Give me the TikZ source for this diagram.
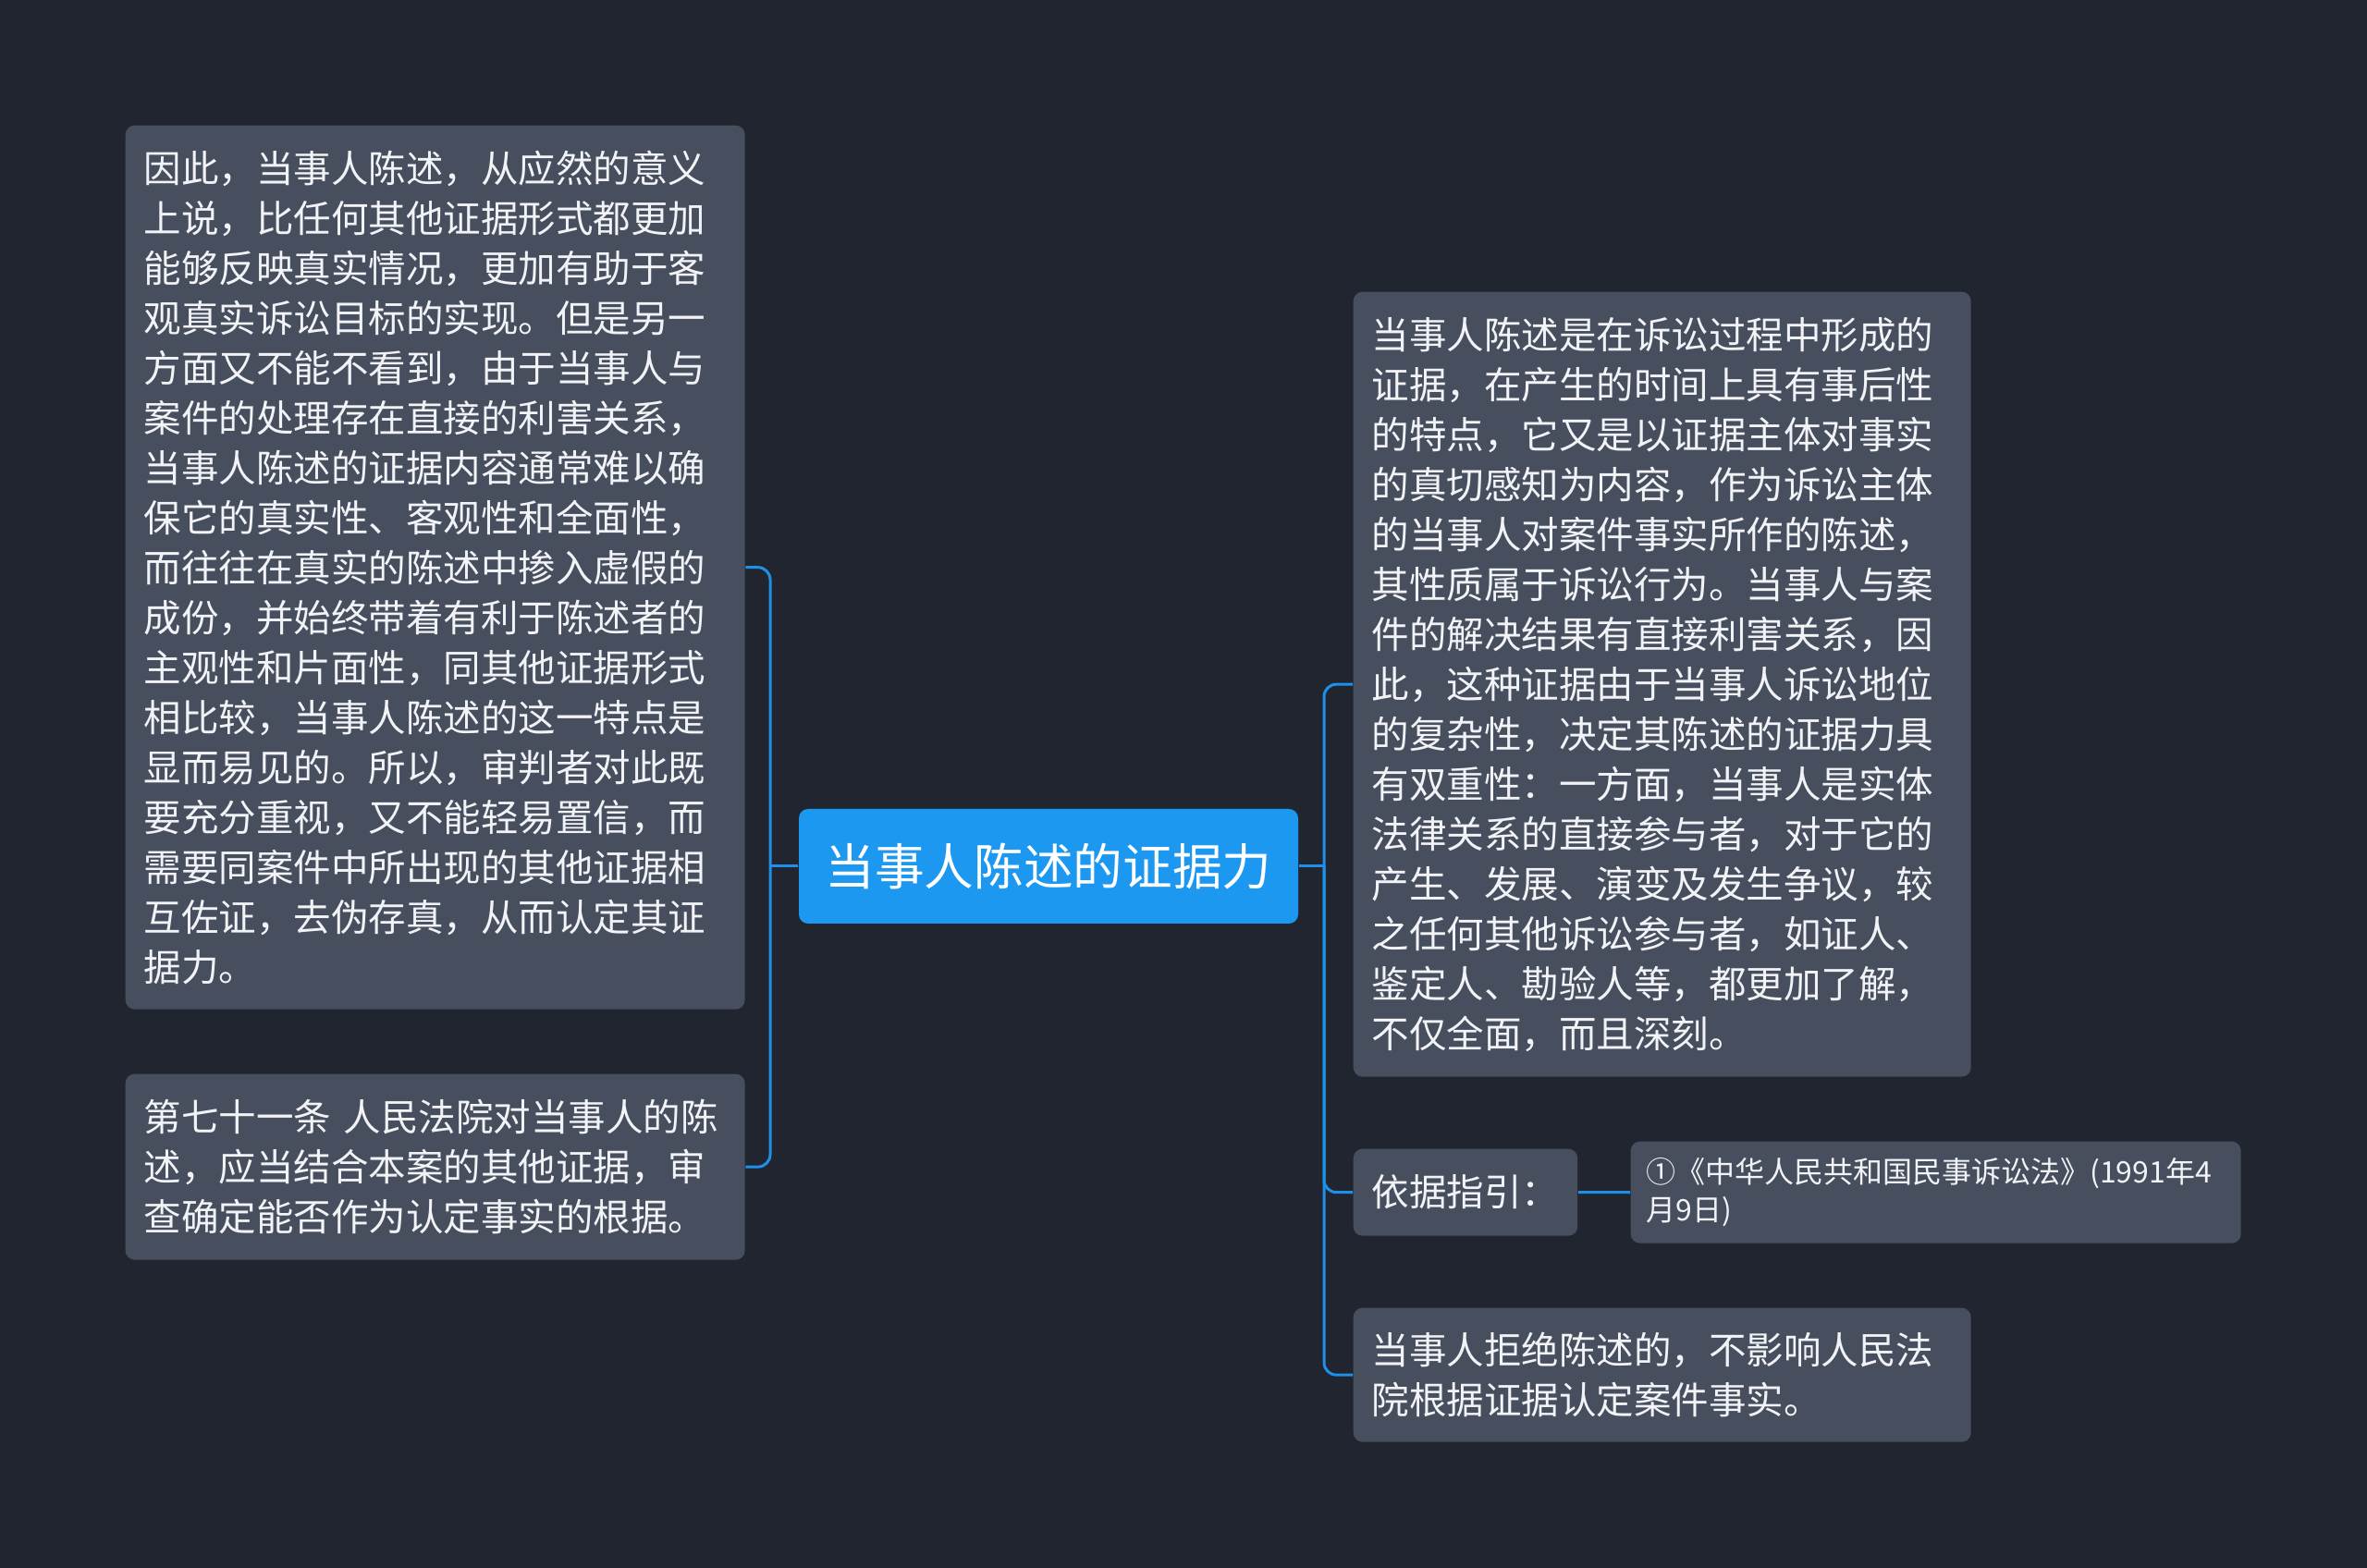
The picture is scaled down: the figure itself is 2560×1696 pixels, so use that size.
\documentclass[tikz,border=0pt]{standalone}
\usepackage{fontspec}
\setmainfont{Noto Sans CJK SC}
\definecolor{bg}{RGB}{33,37,48}
\definecolor{boxc}{RGB}{71,78,94}
\definecolor{mainblue}{RGB}{28,152,240}
\definecolor{linec}{RGB}{30,144,232}
\definecolor{txt}{RGB}{242,243,246}
\tikzset{
  box/.style={fill=boxc, rounded corners=3pt, text=txt, align=left, inner xsep=6pt, inner ysep=0pt,
    font=\fontsize{12.15pt}{16.2pt}\selectfont, anchor=north west},
  conn/.style={draw=linec, line width=0.9pt, rounded corners=4pt},
}
\begin{document}
\begin{tikzpicture}[x=0.3pt,y=-0.3pt]
\path[fill=bg] (0,0) rectangle (2560,1696);
\node[fill=mainblue, rounded corners=3pt, text=white, font=\fontsize{16.1pt}{20pt}\selectfont,
  minimum width=162pt, minimum height=37.2pt, inner sep=0pt] (c) at (1134,937) {当事人陈述的证据力};
\node[box, text width=189pt, minimum height=286.8pt] (l1) at (135,135) {因此，当事人陈述，从应然的意义\\上说，比任何其他证据形式都更加\\能够反映真实情况，更加有助于客\\观真实诉讼目标的实现。但是另一\\方面又不能不看到，由于当事人与\\案件的处理存在直接的利害关系，\\当事人陈述的证据内容通常难以确\\保它的真实性、客观性和全面性，\\而往往在真实的陈述中掺入虚假的\\成份，并始终带着有利于陈述者的\\主观性和片面性，同其他证据形式\\相比较，当事人陈述的这一特点是\\显而易见的。所以，审判者对此既\\要充分重视，又不能轻易置信，而\\需要同案件中所出现的其他证据相\\互佐证，去伪存真，从而认定其证\\据力。};
\node[box, text width=189pt, minimum height=60.3pt] (l2) at (135,1161) {第七十一条 人民法院对当事人的陈\\述，应当结合本案的其他证据，审\\查确定能否作为认定事实的根据。};
\node[box, text width=188.4pt, minimum height=254.7pt] (r1) at (1463,315) {当事人陈述是在诉讼过程中形成的\\证据，在产生的时间上具有事后性\\的特点，它又是以证据主体对事实\\的真切感知为内容，作为诉讼主体\\的当事人对案件事实所作的陈述，\\其性质属于诉讼行为。当事人与案\\件的解决结果有直接利害关系，因\\此，这种证据由于当事人诉讼地位\\的复杂性，决定其陈述的证据力具\\有双重性：一方面，当事人是实体\\法律关系的直接参与者，对于它的\\产生、发展、演变及发生争议，较\\之任何其他诉讼参与者，如证人、\\鉴定人、勘验人等，都更加了解，\\不仅全面，而且深刻。};
\node[box, minimum height=28.2pt] (r2) at (1463,1242) {依据指引：};
\node[box, text width=188pt, inner xsep=5pt, minimum height=33pt,
  font=\fontsize{9.6pt}{12.3pt}\selectfont] (r2ref) at (1763,1234) {①《中华人民共和国民事诉讼法》(1991年4\\月9日)};
\node[box, text width=188.4pt, minimum height=43.5pt] (r3) at (1463,1414) {当事人拒绝陈述的，不影响人民法\\院根据证据认定案件事实。};
\coordinate (jl) at (833,937);
\coordinate (jr) at (1432,937);
\draw[conn] (c.west) -- (jl);
\draw[conn] (jl) |- (l1.east);
\draw[conn] (jl) |- (l2.east);
\draw[conn] (c.east) -- (jr);
\draw[conn] (jr) |- (r1.west);
\draw[conn] (jr) |- (r2.west);
\draw[conn] (jr) |- (r3.west);
\draw[conn] (r2.east) -- (r2ref.west);
\end{tikzpicture}
\end{document}
